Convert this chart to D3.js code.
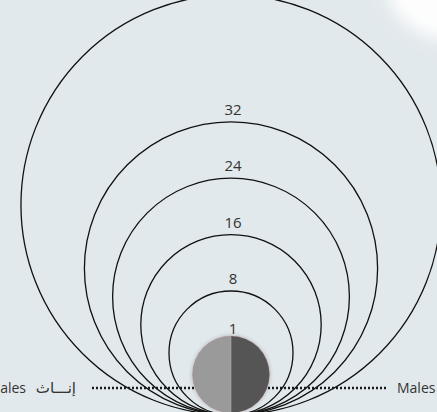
<!DOCTYPE html>
<html>
<head>
<meta charset="utf-8">
<script src="https://cdn.jsdelivr.net/npm/d3@7"></script>
<style>
  html, body { margin: 0; padding: 0; background: #e2e9ec; }
  svg { display: block; }
</style>
</head>
<body>
<script>
// ring values (the outer ring has no visible label)
var ringValues = [50, 32, 24, 16, 8, 1];
var ringLabels = ["", "32", "24", "16", "8", "1"];

// the small split circle
var genders = ["Males", "Females"];
var genderAr = ["ذكور", "إنـــاث"];
var genderShare = [50, 50];
var genderColors = ["#545454", "#9a9a9a"];

var width = 437, height = 412,
    cx = 231, baseY = 415;

var svg = d3.select("body").append("svg")
    .attr("width", width)
    .attr("height", height);

var defs = svg.append("defs");
defs.append("filter").attr("id", "blur")
    .attr("x", "-50%").attr("y", "-50%").attr("width", "200%").attr("height", "200%")
    .append("feGaussianBlur").attr("stdDeviation", 8);
var sh = defs.append("filter").attr("id", "shadow")
    .attr("x", "-30%").attr("y", "-30%").attr("width", "160%").attr("height", "160%");
sh.append("feDropShadow")
    .attr("dx", 0).attr("dy", 0).attr("stdDeviation", 2)
    .attr("flood-color", "#000").attr("flood-opacity", 0.25);

svg.append("rect")
    .attr("width", width).attr("height", height)
    .attr("fill", "#e2e9ec");

// soft white patch, top right
svg.append("ellipse")
    .attr("cx", 432).attr("cy", 0)
    .attr("rx", 50).attr("ry", 34)
    .attr("transform", "rotate(35 432 0)")
    .attr("fill", "#fff")
    .attr("opacity", 0.95)
    .attr("filter", "url(#blur)");

var r = d3.scaleLinear()
    .domain([1, 8, 32])
    .range([38.5, 62, 146.6]);

var rings = svg.append("g");

rings.selectAll("circle")
    .data(ringValues.filter(function (d) { return d !== 1; }))
    .enter()
    .append("circle")
    .attr("cx", cx)
    .attr("cy", function (d) { return baseY - r(d); })
    .attr("r", function (d) { return r(d); })
    .attr("fill", "none")
    .attr("stroke", "#111")
    .attr("stroke-width", 1.3);

rings.selectAll("text")
    .data(ringValues)
    .enter()
    .append("text")
    .attr("x", cx + 2)
    .attr("y", function (d) { return baseY - 2 * r(d) - (d === 1 ? 4 : 7); })
    .attr("text-anchor", "middle")
    .attr("font-family", "'Open Sans', 'DejaVu Sans', sans-serif")
    .attr("font-size", 15)
    .attr("fill", "#333")
    .text(function (d, i) { return ringLabels[i]; });

// dotted leader line
var lineY = 388;
svg.append("line")
    .attr("x1", 92).attr("x2", 388)
    .attr("y1", lineY).attr("y2", lineY)
    .attr("stroke", "#1a1a1a")
    .attr("stroke-width", 2.4)
    .attr("stroke-dasharray", "2,2");

// split circle
var pr = r(1), pcy = baseY - pr - 2;
var pie = d3.pie().sort(null)(genderShare);
var arc = d3.arc().innerRadius(0).outerRadius(pr);

var pg = svg.append("g")
    .attr("transform", "translate(" + cx + "," + pcy + ")")
    .attr("filter", "url(#shadow)");

pg.selectAll("path")
    .data(pie)
    .enter()
    .append("path")
    .attr("d", arc)
    .attr("fill", function (d, i) { return genderColors[i]; });

pg.append("line")
    .attr("y1", -pr).attr("y2", pr)
    .attr("stroke", "#b8a8a8")
    .attr("stroke-width", 0.6);

pg.append("circle")
    .attr("r", pr)
    .attr("fill", "none")
    .attr("stroke", "#b07070")
    .attr("stroke-width", 0.5)
    .attr("stroke-opacity", 0.6);

// gender labels
var font = "'Open Sans', 'DejaVu Sans', sans-serif";
svg.append("text")
    .attr("x", 76).attr("y", lineY + 5)
    .attr("text-anchor", "end")
    .attr("font-family", "'DejaVu Sans', sans-serif")
    .attr("font-size", 15)
    .attr("fill", "#333")
    .text(genderAr[1]);
svg.append("text")
    .attr("x", 26).attr("y", lineY + 5)
    .attr("text-anchor", "end")
    .attr("font-family", font)
    .attr("font-size", 14)
    .attr("fill", "#333")
    .text(genders[1]);
svg.append("text")
    .attr("x", 397).attr("y", lineY + 5)
    .attr("font-family", font)
    .attr("font-size", 14)
    .attr("fill", "#333")
    .text(genders[0]);
</script>
</body>
</html>
